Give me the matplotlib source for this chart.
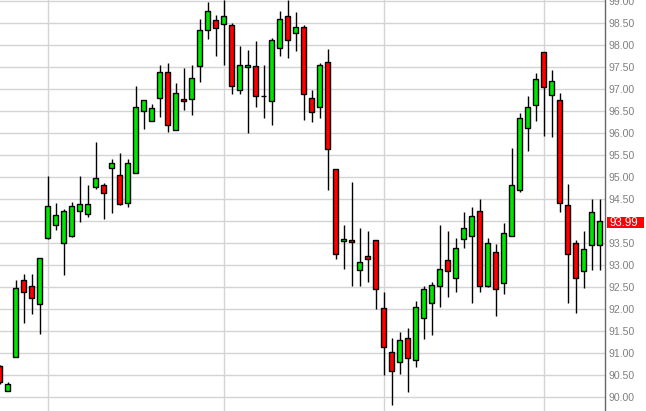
import numpy as np
import matplotlib
matplotlib.use('Agg')
import matplotlib.pyplot as plt
from matplotlib.patches import Rectangle

# daily OHLC, oldest first
opens = [90.70, 90.13, 90.92, 92.65, 92.52, 92.12, 93.62, 93.92, 93.49, 93.65,
         94.22, 94.15, 94.78, 94.81, 95.20, 95.04, 94.40, 95.10, 96.49, 96.27,
         96.79, 97.38, 96.06, 96.77, 96.77, 97.52, 98.34, 98.56, 98.47, 98.45,
         96.97, 97.49, 97.52, 96.83, 96.72, 97.93, 98.67, 98.27, 98.40, 96.79,
         96.58, 97.61, 95.19, 93.54, 93.56, 92.88, 93.20, 93.56, 92.02, 91.02,
         90.79, 91.33, 90.83, 91.79, 92.13, 92.52, 93.11, 92.70, 93.58, 93.65,
         94.22, 92.52, 93.29, 92.58, 93.67, 94.70, 96.11, 96.63, 97.83, 96.86,
         96.74, 94.36, 93.49, 92.86, 93.45, 93.45]
highs = [90.72, 90.34, 92.66, 92.80, 92.80, 93.17, 95.03, 94.40, 94.27, 94.44,
         95.03, 94.82, 95.79, 94.86, 95.40, 95.54, 95.42, 97.07, 96.74, 96.67,
         97.54, 97.58, 97.13, 97.47, 97.54, 98.58, 98.97, 98.68, 99.02, 98.49,
         97.98, 97.89, 98.09, 97.54, 98.16, 98.77, 99.02, 98.74, 98.45, 96.97,
         97.58, 97.90, 95.19, 93.91, 94.89, 93.84, 93.77, 93.56, 92.38, 91.33,
         91.47, 91.56, 92.18, 92.52, 92.61, 93.91, 93.77, 93.61, 94.20, 94.32,
         94.49, 93.61, 93.47, 93.95, 95.65, 96.45, 96.83, 97.36, 97.83, 97.43,
         96.90, 94.85, 93.56, 93.77, 94.49, 94.49]
lows = [90.30, 90.13, 90.92, 91.69, 91.89, 91.44, 93.60, 93.79, 92.78, 93.64,
        93.98, 94.10, 94.73, 94.05, 94.19, 94.36, 94.31, 95.10, 96.10, 96.27,
        96.36, 96.02, 96.06, 96.53, 96.42, 97.15, 98.13, 97.74, 97.55, 96.89,
        96.89, 96.01, 96.58, 96.35, 96.19, 97.76, 97.71, 97.87, 96.30, 96.26,
        96.33, 94.71, 93.14, 92.92, 92.53, 92.53, 92.62, 92.01, 90.51, 89.82,
        90.53, 90.12, 90.69, 91.31, 91.42, 92.05, 92.28, 92.38, 93.38, 92.14,
        92.38, 92.49, 91.85, 92.33, 93.67, 94.67, 95.58, 96.27, 95.94, 95.90,
        94.20, 92.14, 91.92, 92.47, 92.88, 92.88]
closes = [90.33, 90.29, 92.47, 92.38, 92.26, 93.17, 94.33, 94.13, 94.22, 94.33,
          94.38, 94.38, 94.97, 94.63, 95.31, 94.38, 95.31, 96.58, 96.74, 96.56,
          97.38, 96.18, 96.90, 96.72, 97.24, 98.33, 98.77, 98.38, 98.65, 97.06,
          97.54, 97.54, 96.85, 96.83, 98.11, 98.58, 98.11, 98.40, 96.88, 96.47,
          97.54, 95.63, 93.24, 93.58, 93.52, 93.06, 93.13, 92.45, 91.13, 90.58,
          91.29, 90.89, 92.04, 92.45, 92.54, 92.92, 92.86, 93.38, 93.83, 94.11,
          92.52, 93.51, 92.45, 93.72, 94.81, 96.33, 96.58, 97.22, 97.04, 97.18,
          94.42, 93.24, 92.70, 93.36, 94.20, 93.99]
# candles where a new month starts (vertical grid)
month_starts = [6, 28, 48, 68]
yticks = np.arange(90.0, 99.01, 0.5)

o = np.array(opens)
h = np.array(highs)
l = np.array(lows)
c = np.array(closes)
x = np.arange(len(o))

W, H = 646, 411
fig = plt.figure(figsize=(W / 100, H / 100), dpi=100)
ax = fig.add_axes([0, 0, 605.3 / W, 1])

for yv in yticks:
    ax.axhline(yv, color='#d4d4d4', lw=1, zorder=0)
for xv in month_starts:
    ax.axvline(xv, color='#d4d4d4', lw=1, zorder=0)

colors = np.where(c > o, '#00e600', np.where(c < o, '#ff0000', 'black'))
bottom = np.minimum(o, c)
height = np.abs(c - o)
height = np.where(height < 0.02, 0.02, height)

ax.vlines(x, l, h, color='black', lw=1, zorder=2)
ax.bar(x, height, bottom=bottom, width=0.68, color=colors,
       edgecolor='black', linewidth=1, zorder=3)

ax.set_xlim(0.04, 75.7)
ax.set_ylim(99 - 410 / 44, 99 + 1 / 44)

# the price tag hides the tick label it sits on
labels = ['' if abs(v - c[-1]) < 0.15 else '%.2f' % v for v in yticks]
ax.yaxis.tick_right()
ax.set_yticks(yticks)
ax.set_yticklabels(labels, family='Liberation Sans')
ax.tick_params(axis='y', length=0, pad=2.6, labelsize=7.6, labelcolor='#808080')
ax.set_xticks([])
for s in ['top', 'left', 'bottom']:
    ax.spines[s].set_visible(False)
ax.spines['right'].set_color('#666666')
ax.spines['right'].set_linewidth(1)

# last price tag
ytag = 1 - 222.5 / H
fig.add_artist(Rectangle((607.3 / W, 1 - 228.3 / H), 36.7 / W, 11.6 / H,
                         transform=fig.transFigure, fc='#ff0000', ec='none', zorder=5))
fig.text(609.3 / W, ytag, '%.2f' % c[-1], color='white', fontsize=8.4,
         family='Liberation Sans', va='center', ha='left', zorder=6)

fig.savefig('out.png', dpi=100)
